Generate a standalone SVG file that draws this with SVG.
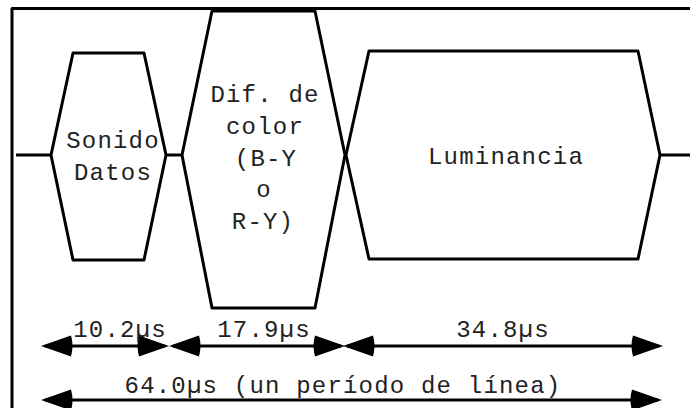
<svg xmlns="http://www.w3.org/2000/svg" width="690" height="408" viewBox="0 0 690 408">
  <style>
    .ln { fill: none; stroke: #000; stroke-width: 3; stroke-linejoin: round; }
    .t { font-family: "Liberation Mono", "Courier New", monospace; font-size: 24px; letter-spacing: 1.2px; fill: #222; text-anchor: middle; }
  </style>
  <defs>
    <marker id="ah" markerUnits="userSpaceOnUse" viewBox="-4 -11 36 22" markerWidth="36" markerHeight="22" refX="26" refY="0" orient="auto-start-reverse">
      <path d="M0,-10.5 L30,0 L0,10.5 Q-3,0 0,-10.5 Z" fill="#000"/>
    </marker>
  </defs>
  <rect width="690" height="408" fill="#fff"/>
  <rect id="frame" x="12" y="8.5" width="700" height="420" class="ln"/>

  <g id="baseline">
    <polyline class="ln" points="16,155 51,155"/>
    <polyline class="ln" points="166,155 182,155"/>
    <polyline class="ln" points="660,155 692,155"/>
  </g>

  <g id="sonido">
    <polygon class="ln" points="51,155 73,53 144,53 166,155 144,260 73,260"/>
    <text class="t" x="113" y="148">Sonido</text>
    <text class="t" x="113" y="180">Datos</text>
  </g>

  <g id="difcolor">
    <polygon class="ln" points="182,155 212,11 315,11 345,155 315,308 212,308"/>
    <text class="t" x="265" y="102">Dif. de</text>
    <text class="t" x="265" y="134">color</text>
    <text class="t" x="266" y="166">(B-Y</text>
    <text class="t" x="264" y="197">o</text>
    <text class="t" x="263" y="229">R-Y)</text>
  </g>

  <g id="luminancia">
    <polygon class="ln" points="346,155 369,51 638,51 660,155 638,259 369,259"/>
    <text class="t" x="506" y="164">Luminancia</text>
  </g>

  <g id="connectors">
    <line class="ln" x1="45" y1="346" x2="165" y2="346" marker-start="url(#ah)" marker-end="url(#ah)"/>
    <line class="ln" x1="173" y1="346" x2="341" y2="346" marker-start="url(#ah)" marker-end="url(#ah)"/>
    <line class="ln" x1="347" y1="346" x2="659" y2="346" marker-start="url(#ah)" marker-end="url(#ah)"/>
    <line class="ln" x1="45" y1="400" x2="658" y2="400" marker-start="url(#ah)" marker-end="url(#ah)"/>
  </g>

  <g id="labels">
    <text class="t" x="120" y="337">10.2µs</text>
    <text class="t" x="264" y="337">17.9µs</text>
    <text class="t" x="503" y="337">34.8µs</text>
    <text class="t" x="343" y="393">64.0µs (un período de línea)</text>
  </g>
</svg>
